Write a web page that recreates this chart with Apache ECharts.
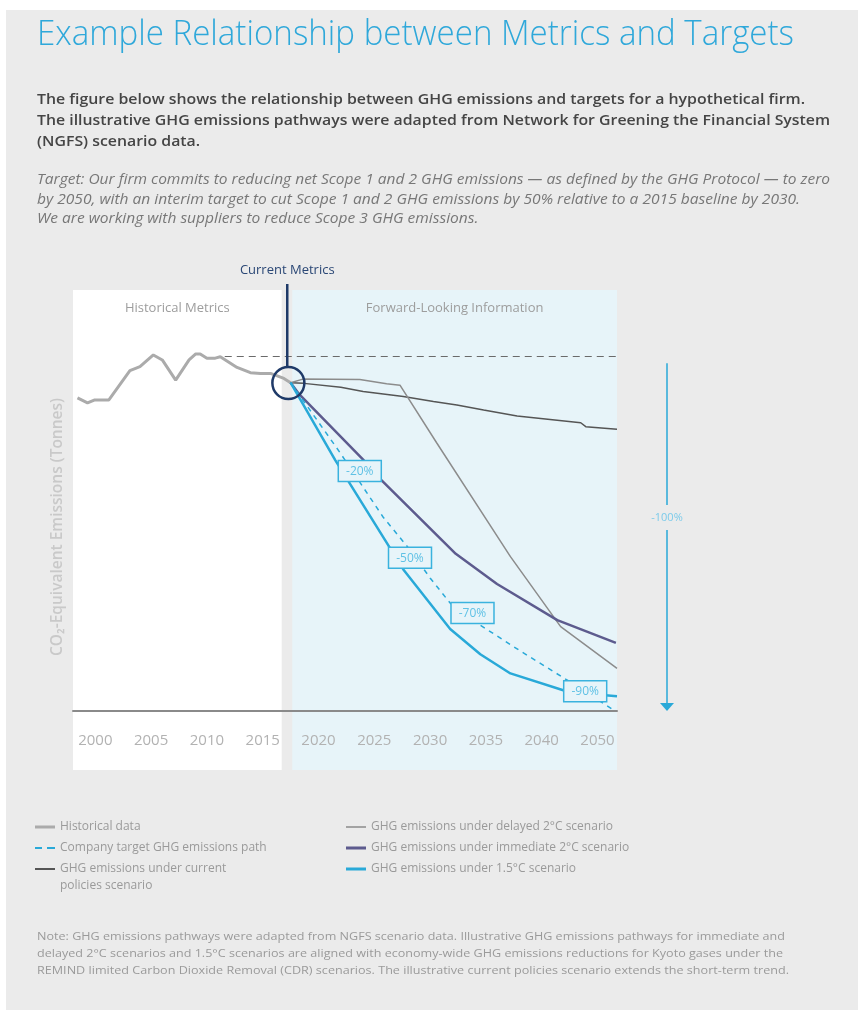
<!DOCTYPE html>
<html><head><meta charset="utf-8">
<script src="https://cdn.jsdelivr.net/npm/echarts@6/dist/echarts.min.js"></script>
<style>html,body{margin:0;padding:0;background:#fff}#c{width:858px;height:1010px}</style>
</head><body><div id="c"></div>
<script>
// ---------- data ----------
const tickLabels = ['2000','2005','2010','2015','2020','2025','2030','2035','2040','2050'];
const tickYears  = [2000, 2005, 2010, 2015, 2020, 2025, 2030, 2035, 2040, 2050];

const histYears  = [1998.4,1999.3,1999.9,2001.2,2003.1,2004.0,2005.2,2006.0,2007.2,2008.4,2009.0,2009.4,2010.0,2010.75,2011.2,2012.7,2013.9,2014.8,2015.7,2016.9,2017.5];
const histValues = [88.2,86.8,87.6,87.6,95.9,97.0,100.3,98.9,93.2,98.9,100.6,100.6,99.4,99.4,99.8,96.8,95.3,95.1,95.1,93.7,92.5];

const targetYears  = [2017.5,2021.95,2025.8,2028.2,2030.0,2031.8,2034.2,2038.1,2044.6,2052.9];
const targetValues = [92.5,72.7,54.6,45.4,37.5,30.4,24.8,16.9,8.7,0.3];

const currentYears  = [2017.5,2018.7,2022.0,2024.0,2027.6,2030.3,2032.4,2034.8,2037.8,2047.0,2047.9,2053.5];
const currentValues = [92.5,92.3,91.2,90.0,88.6,87.2,86.2,84.8,83.1,81.2,80.1,79.4];

const delayedYears  = [2017.5,2018.6,2023.7,2026.1,2027.3,2030.6,2037.2,2043.4,2053.5];
const delayedValues = [92.5,93.5,93.4,92.2,91.8,75.5,43.5,23.8,12.0];

const immediateYears  = [2017.5,2018.2,2024.0,2025.5,2032.3,2036.0,2042.8,2053.3];
const immediateValues = [92.5,89.5,70.8,65.5,44.3,35.8,25.6,19.2];

const c15Years  = [2017.5,2021.5,2027.6,2031.8,2034.5,2037.2,2044.0,2048.8,2053.5];
const c15Values = [92.5,70.7,39.9,23.1,16.0,10.6,5.8,4.8,4.2];

const reductionLabels = ['-20%','-50%','-70%','-90%'];
const reductionYears  = [2023.7,2028.2,2033.8,2047.8];
const reductionValues = [67.6,43.2,27.6,5.6];

const baselineValue = 100;      // dashed reference level
const baselineFromYear = 2011.6;
const currentYear = 2017.2;
const currentPoint = [2017.3, 92.4];
const historicalEndYear = 2016.7;
const forwardStartYear = 2017.65;
const arrowTopValue = 98, arrowEndValue = 0, arrowLabelValue = 54.4;

const X_MIN_YEAR = 1998.0, X_MAX_YEAR = 2053.5;
const Y_MIN = -16.6, Y_MAX = 118.6;

// position along the evenly spaced tick labels (piecewise linear between ticks)
function yearPos(y){
  const n = tickYears.length;
  for (let i = 0; i < n - 1; i++){
    if (y <= tickYears[i+1] || i === n - 2) return i + (y - tickYears[i]) / (tickYears[i+1] - tickYears[i]);
  }
}
const mk = (ys, vs) => ys.map((y, i) => [yearPos(y), vs[i]]);
const X_MIN = yearPos(X_MIN_YEAR), X_MAX = yearPos(X_MAX_YEAR);

// ---------- styles ----------
const FONT = '"Open Sans", "Noto Sans", sans-serif';
const CYAN = '#29a9d8';
const NAVY = '#1f3a68';
const PANEL_BLUE = '#e7f4f9';
const GRID = {left: 73, right: 241, top: 290, bottom: 240};
const gridH = 1010 - GRID.top - GRID.bottom;
const zeroOffset = -(0 - Y_MIN) / (Y_MAX - Y_MIN) * gridH; // lift x axis to the zero level

// legend icons (line swatches inside a 20x14 box)
const ic = body => 'path://M0,0h.01v.01h-.01z ' + body + ' M19.99,13.99h.01v.01h-.01z';
const ICON_THICK = ic('M0,5.5h20v3h-20z');
const ICON_MED = ic('M0,6h20v2h-20z');
const ICON_THIN = ic('M0,6.25h20v1.5h-20z');
const ICON_DASH = ic('M0,6h7v2h-7z M12,6h8v2h-8z');

const chart = echarts.init(document.getElementById('c'), null, {renderer: 'canvas'});

const legendText = {color: '#9a9a9a', fontSize: 12, fontFamily: FONT, lineHeight: 14};
const option = {
  animation: false,
  backgroundColor: '#ebebeb',
  grid: Object.assign({containLabel: false}, GRID),
  xAxis: {
    type: 'value', min: X_MIN, max: X_MAX, position: 'bottom', offset: zeroOffset, z: 5,
    axisLine: {show: true, onZero: false, lineStyle: {color: '#8a8a8a', width: 2}},
    axisTick: {show: false},
    splitLine: {show: false},
    axisLabel: {
      customValues: tickLabels.map((_, i) => i),
      formatter: v => tickLabels[Math.round(v)],
      color: '#b2b2b2', fontSize: 15, fontFamily: FONT, margin: 22
    }
  },
  yAxis: {
    type: 'value', min: Y_MIN, max: Y_MAX,
    axisLine: {show: false}, axisTick: {show: false}, axisLabel: {show: false}, splitLine: {show: false},
    name: 'CO₂-Equivalent Emissions (Tonnes)', nameLocation: 'middle', nameGap: 7,
    nameTextStyle: {color: '#c9c9c9', fontSize: 15.5, fontWeight: 600, fontFamily: FONT, padding: [0, 0, 0, 6]}
  },
  legend: [
    {
      left: 35, top: 820, padding: 0, orient: 'vertical', itemWidth: 20, itemHeight: 14, itemGap: 7,
      textStyle: legendText,
      formatter: n => n === 'GHG emissions under current policies scenario' ? 'GHG emissions under current' : n,
      data: [
        {name: 'Historical data', icon: ICON_THICK},
        {name: 'Company target GHG emissions path', icon: ICON_DASH},
        {name: 'GHG emissions under current policies scenario', icon: ICON_MED}
      ]
    },
    {
      left: 346, top: 820, padding: 0, orient: 'vertical', itemWidth: 20, itemHeight: 14, itemGap: 7,
      textStyle: legendText,
      data: [
        {name: 'GHG emissions under delayed 2°C scenario', icon: ICON_THIN},
        {name: 'GHG emissions under immediate 2°C scenario', icon: ICON_THICK},
        {name: 'GHG emissions under 1.5°C scenario', icon: ICON_THICK}
      ]
    }
  ],
  series: [
    {
      type: 'line', name: '_panels', data: [], z: 0, silent: true,
      markArea: {
        silent: true,
        label: {show: true, position: 'insideTop', distance: 12, color: '#9d9d9d', fontSize: 13, fontFamily: FONT},
        data: [
          [{name: 'Historical Metrics', xAxis: X_MIN, yAxis: Y_MIN, itemStyle: {color: '#ffffff'}}, {xAxis: yearPos(historicalEndYear), yAxis: Y_MAX}],
          [{name: 'Forward-Looking Information', xAxis: yearPos(forwardStartYear), yAxis: Y_MIN, itemStyle: {color: PANEL_BLUE}}, {xAxis: X_MAX, yAxis: Y_MAX}]
        ]
      },
      markLine: {
        silent: true, symbol: ['none', 'none'], label: {show: false},
        lineStyle: {color: '#6a6a6a', width: 1, type: [7, 5]},
        data: [[{coord: [yearPos(baselineFromYear), baselineValue]}, {coord: [X_MAX, baselineValue]}]]
      }
    },
    {type: 'line', name: 'Historical data', data: mk(histYears, histValues), symbol: 'none', z: 3,
      itemStyle: {color: '#ababab'}, lineStyle: {color: '#ababab', width: 3}},
    {type: 'line', name: 'GHG emissions under current policies scenario', data: mk(currentYears, currentValues), symbol: 'none', z: 3,
      itemStyle: {color: '#555555'}, lineStyle: {color: '#555555', width: 1.5}},
    {type: 'line', name: 'GHG emissions under delayed 2°C scenario', data: mk(delayedYears, delayedValues), symbol: 'none', z: 3,
      itemStyle: {color: '#8c8c8c'}, lineStyle: {color: '#8c8c8c', width: 1.5}},
    {type: 'line', name: 'GHG emissions under immediate 2°C scenario', data: mk(immediateYears, immediateValues), symbol: 'none', z: 3,
      itemStyle: {color: '#5d5b8e'}, lineStyle: {color: '#5d5b8e', width: 2.5}},
    {type: 'line', name: 'Company target GHG emissions path', data: mk(targetYears, targetValues), symbol: 'none', z: 4,
      itemStyle: {color: CYAN}, lineStyle: {color: CYAN, width: 1.5, type: [5, 5]}},
    {type: 'line', name: 'GHG emissions under 1.5°C scenario', data: mk(c15Years, c15Values), symbol: 'none', z: 4,
      itemStyle: {color: CYAN}, lineStyle: {color: CYAN, width: 2.5}}
  ]
};
chart.setOption(option);

// ---------- annotations & text ----------
const P = (yr, v) => chart.convertToPixel({gridIndex: 0}, [yearPos(yr), v]);
const ctx = document.createElement('canvas').getContext('2d');
function measure(text, o){ ctx.font = `${o.style || 'normal'} ${o.weight || 400} ${o.size}px ${FONT}`; return ctx.measureText(text).width; }
function block(lines, widths, ys, o){
  const scales = lines.map((t, i) => widths[i] ? widths[i] / measure(t, o) : null);
  const known = scales.filter(s => s);
  const avg = known.reduce((a, b) => a + b, 0) / known.length;
  return lines.map((t, i) => ({
    type: 'text', x: 37, y: ys[i], scaleX: scales[i] || avg, silent: true,
    style: {text: t, fontSize: o.size, fontFamily: FONT, fontWeight: o.weight || 400, fontStyle: o.style || 'normal',
      fill: o.color, align: 'left', verticalAlign: 'middle'}
  }));
}
const titleO = {size: 34, weight: 300, color: '#2fa8da'};
const p1O = {size: 14.5, weight: 600, color: '#454545'};
const p2O = {size: 14, weight: 400, style: 'italic', color: '#777777'};
const noteO = {size: 11.5, weight: 400, color: '#9a9a9a'};

const g = [];
g.push({type: 'rect', shape: {x: 0, y: 0, width: 858, height: 10}, style: {fill: '#ffffff'}, silent: true, z: -1});
g.push({type: 'rect', shape: {x: 0, y: 0, width: 6, height: 1010}, style: {fill: '#ffffff'}, silent: true, z: -1});
g.push(...block(['Example Relationship between Metrics and Targets'], [757], [35], titleO));
g.push(...block([
  'The figure below shows the relationship between GHG emissions and targets for a hypothetical firm.',
  'The illustrative GHG emissions pathways were adapted from Network for Greening the Financial System',
  '(NGFS) scenario data.'], [768, 793, null], [100, 121, 142], p1O));
g.push(...block([
  'Target: Our firm commits to reducing net Scope 1 and 2 GHG emissions — as defined by the GHG Protocol — to zero',
  'by 2050, with an interim target to cut Scope 1 and 2 GHG emissions by 50% relative to a 2015 baseline by 2030.',
  'We are working with suppliers to reduce Scope 3 GHG emissions.'], [793, 763, null], [180, 200, 219], p2O));
g.push(...block([
  'Note: GHG emissions pathways were adapted from NGFS scenario data. Illustrative GHG emissions pathways for immediate and',
  'delayed 2°C scenarios and 1.5°C scenarios are aligned with economy-wide GHG emissions reductions for Kyoto gases under the',
  'REMIND limited Carbon Dioxide Removal (CDR) scenarios. The illustrative current policies scenario extends the short-term trend.'],
  [748, 746, 752], [937, 954, 971], noteO));
g.push({type: 'text', x: 60, y: 886, silent: true,
  style: {text: 'policies scenario', fontSize: 12, fontFamily: FONT, fill: '#9a9a9a', verticalAlign: 'middle'}});

// reduction label boxes on the target path
reductionLabels.forEach((t, i) => {
  const p = P(reductionYears[i], reductionValues[i]);
  g.push({type: 'rect', z: 20, silent: true, shape: {x: p[0] - 21.5, y: p[1] - 10.5, width: 43, height: 21},
    style: {fill: PANEL_BLUE, stroke: '#3ab2de', lineWidth: 1.5}});
  g.push({type: 'text', z: 21, silent: true, x: p[0], y: p[1] + 0.5,
    style: {text: t, fontSize: 12, fontFamily: FONT, fill: '#5fc1e5', align: 'center', verticalAlign: 'middle'}});
});

// current metrics marker
const cp = P(currentPoint[0], currentPoint[1]);
const r = 16;
const cx = P(currentYear, 0)[0];
g.push({type: 'line', shape: {x1: cx, y1: 284, x2: cx, y2: cp[1] - r}, style: {stroke: NAVY, lineWidth: 2.5}, silent: true, z: 10});
g.push({type: 'circle', shape: {cx: cp[0], cy: cp[1], r: r}, style: {stroke: NAVY, lineWidth: 2.5, fill: null}, silent: true, z: 10});
g.push({type: 'text', x: cx, y: 270, silent: true, z: 10,
  style: {text: 'Current Metrics', fontSize: 13, fontFamily: FONT, fill: '#2a4775', align: 'center', verticalAlign: 'middle'}});

// -100% arrow
const ax = 667;
const yTop = P(2050, arrowTopValue)[1], yTip = P(2050, arrowEndValue)[1], yLab = P(2050, arrowLabelValue)[1];
g.push({type: 'line', shape: {x1: ax, y1: yTop, x2: ax, y2: yLab - 13}, style: {stroke: CYAN, lineWidth: 1.5}, silent: true});
g.push({type: 'line', shape: {x1: ax, y1: yLab + 12, x2: ax, y2: yTip - 7}, style: {stroke: CYAN, lineWidth: 1.5}, silent: true});
g.push({type: 'polygon', shape: {points: [[ax - 7, yTip - 8], [ax + 7, yTip - 8], [ax, yTip]]}, style: {fill: CYAN}, silent: true});
g.push({type: 'text', x: ax, y: yLab, silent: true,
  style: {text: '-100%', fontSize: 11, fontFamily: FONT, fill: '#7ccbea', align: 'center', verticalAlign: 'middle'}});

chart.setOption({graphic: {elements: g}});
</script></body></html>
